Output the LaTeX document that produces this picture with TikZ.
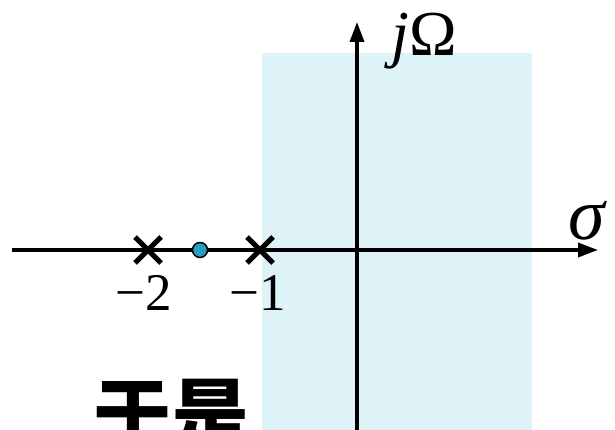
\documentclass[tikz,border=0pt]{standalone}
\usepackage{fontspec}
\setmainfont{Liberation Serif}
\newfontfamily\cjk{Noto Sans CJK SC}
\usetikzlibrary{arrows.meta}
\definecolor{roc}{HTML}{DDF3F8}
\definecolor{zerofill}{HTML}{2A9EC2}
\tikzset{
  pole/.style={line width=5pt},
  axis/.style={line width=3.5pt,-{Triangle[length=20pt,width=14pt]}},
  lbl/.style={inner sep=0pt,font=\fontsize{53}{58}\selectfont}
}
\begin{document}
\begin{tikzpicture}[x=1pt,y=-1pt,line join=round]
\useasboundingbox (0,0) rectangle (615,430);
\fill[roc] (262,53) rectangle (532,440);
\draw[axis] (12,250) -- (598,250);
\draw[axis] (357,440) -- (357,22);
\draw[pole] (135,237) -- (161,263) (135,263) -- (161,237);
\draw[pole] (247,237) -- (273,263) (247,263) -- (273,237);
\draw[fill=zerofill,line width=1.5pt] (200,250) circle (7.5pt);
\node[lbl] (m2) at (144,293) {−2};
\node[lbl] (m1) at (258,293) {−1};
\node[lbl,font=\fontsize{74}{78}\selectfont] (sig) at (588,221) {\textit{σ}};
\node[lbl,anchor=base,font=\fontsize{64}{70}\selectfont] (jw) at (424,56) {\textit{j}Ω};
\node[inner sep=0pt,anchor=north,font=\cjk\bfseries\fontsize{78}{82}\selectfont] (ys) at (171,379) {于是};
\end{tikzpicture}
\end{document}
